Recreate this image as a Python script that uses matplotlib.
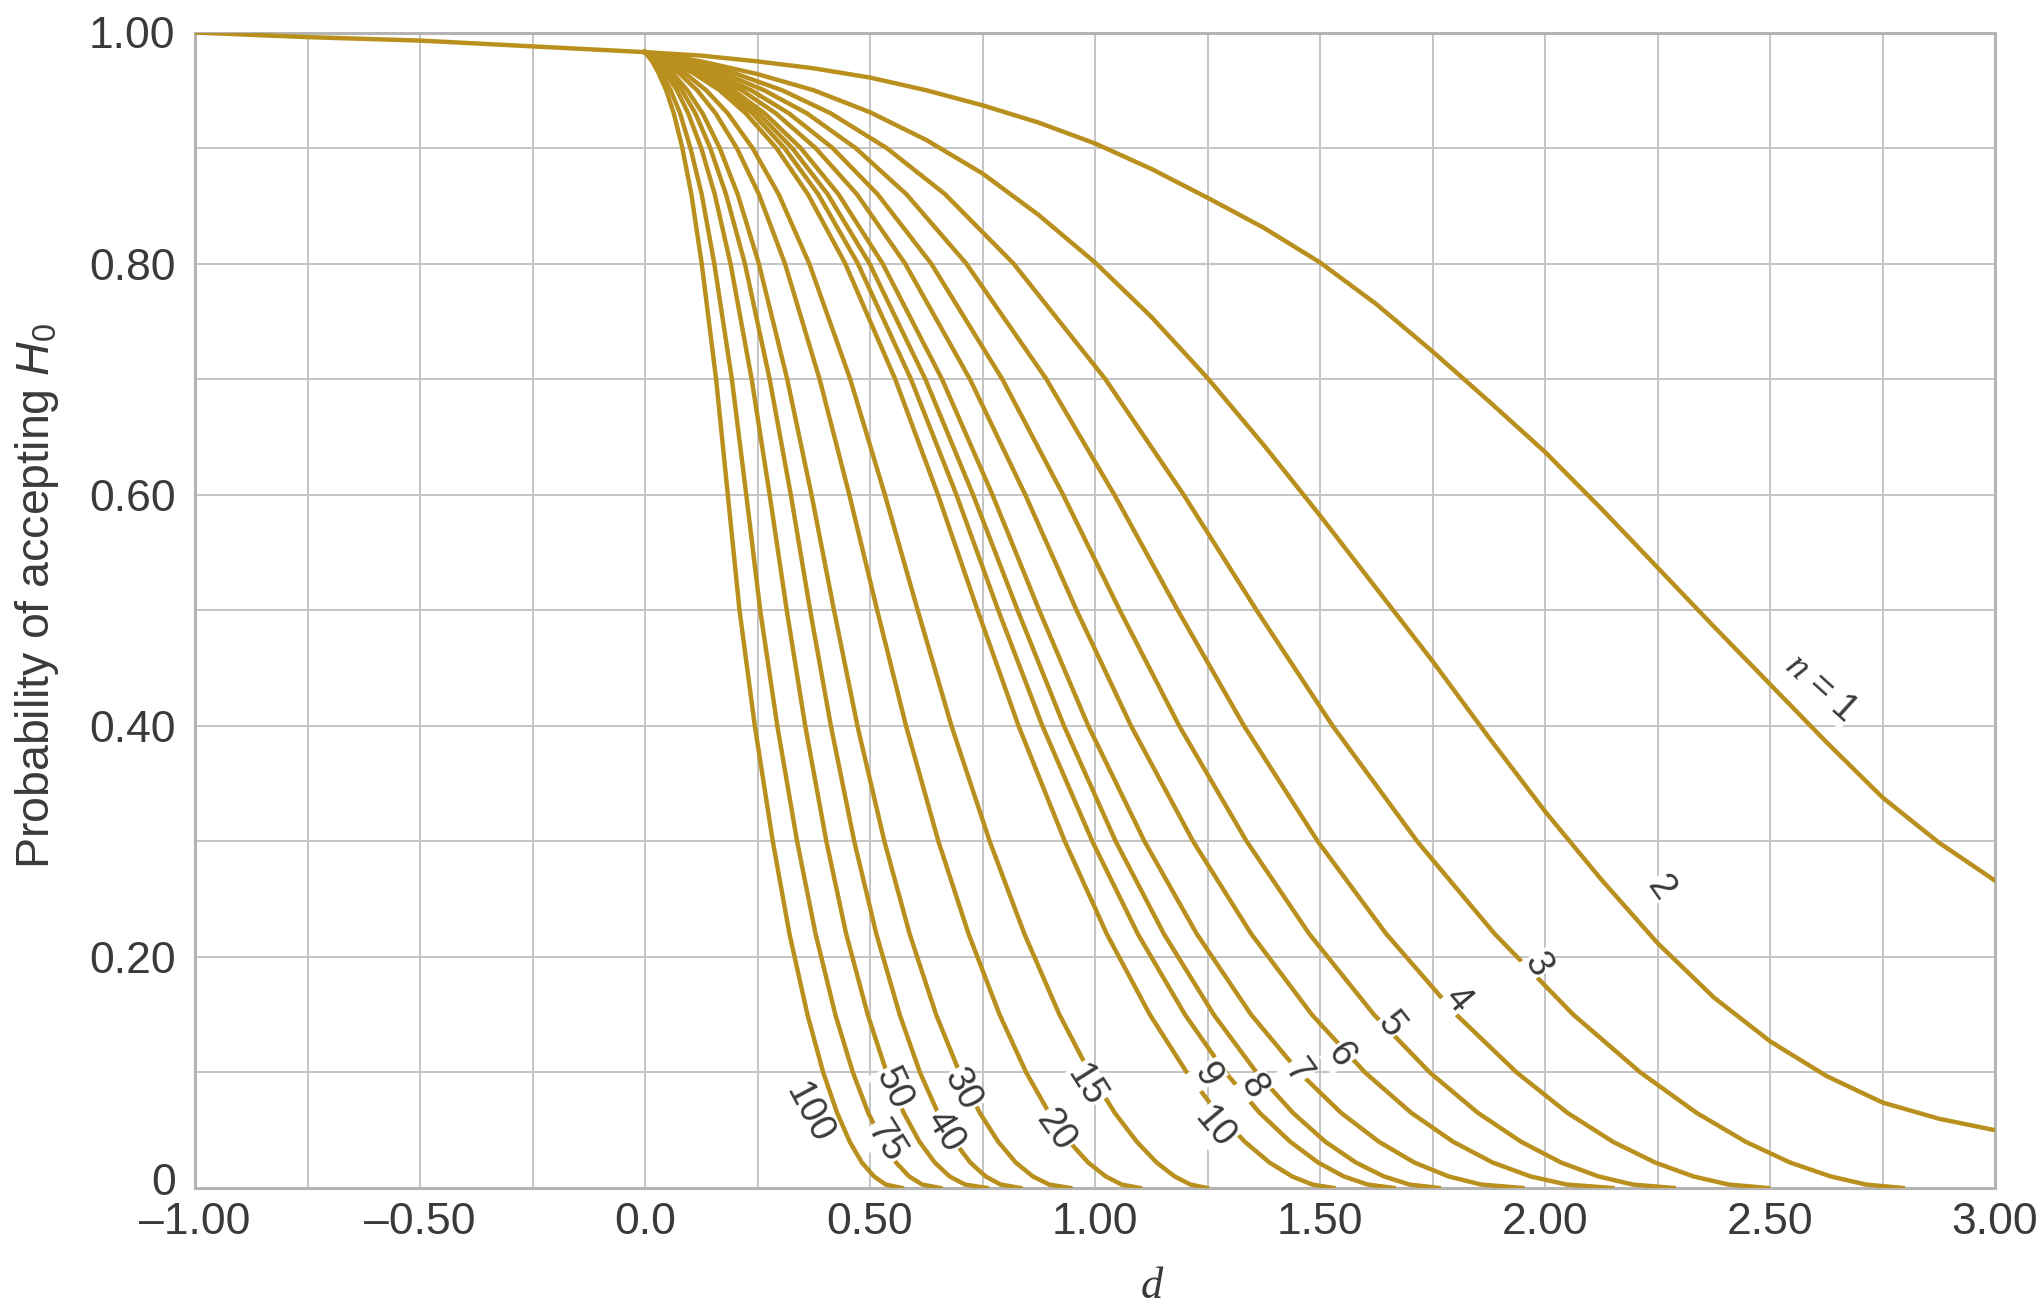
import matplotlib.pyplot as plt
import matplotlib.transforms as mtrans
from matplotlib.ticker import MultipleLocator

plt.rcParams['font.family'] = ['Liberation Sans', 'DejaVu Sans']
plt.rcParams['mathtext.fontset'] = 'custom'
plt.rcParams['mathtext.rm'] = 'Liberation Sans'
plt.rcParams['mathtext.it'] = 'Liberation Sans:italic'
plt.rcParams['mathtext.cal'] = 'Liberation Serif:italic'

# shared branch for d < 0
d_left = [-1.0, -0.75, -0.5, -0.25, 0.0]
p_left = [1.0, 0.996, 0.993, 0.988, 0.983]

p_levels = [0.983, 0.975, 0.965, 0.95, 0.93, 0.9, 0.86, 0.8, 0.7, 0.6, 0.5,
            0.4, 0.3, 0.22, 0.15, 0.1, 0.065, 0.04, 0.022, 0.01, 0.003, 0.0]

d_n100 = [0, 0.016, 0.030, 0.047, 0.064, 0.083, 0.103, 0.126, 0.158, 0.184, 0.21,
          0.244, 0.284, 0.321, 0.361, 0.396, 0.427, 0.455, 0.482, 0.509, 0.535, 0.571]
d_n75 = [0, 0.019, 0.037, 0.057, 0.078, 0.101, 0.126, 0.154, 0.193, 0.225, 0.256,
         0.294, 0.338, 0.379, 0.423, 0.462, 0.496, 0.528, 0.558, 0.587, 0.616, 0.656]
d_n50 = [0, 0.024, 0.046, 0.071, 0.096, 0.125, 0.155, 0.19, 0.237, 0.277, 0.315,
         0.356, 0.403, 0.447, 0.495, 0.537, 0.575, 0.61, 0.644, 0.677, 0.711, 0.76]
d_n40 = [0, 0.028, 0.053, 0.082, 0.112, 0.145, 0.18, 0.222, 0.277, 0.324, 0.367,
         0.413, 0.465, 0.514, 0.566, 0.611, 0.651, 0.688, 0.723, 0.757, 0.79, 0.834]
d_n30 = [0, 0.032, 0.061, 0.094, 0.128, 0.166, 0.206, 0.253, 0.316, 0.37, 0.42,
         0.472, 0.532, 0.588, 0.647, 0.699, 0.744, 0.785, 0.824, 0.862, 0.898, 0.945]
d_n20 = [0, 0.039, 0.075, 0.116, 0.157, 0.204, 0.253, 0.311, 0.388, 0.454, 0.516,
         0.58, 0.652, 0.719, 0.788, 0.847, 0.898, 0.943, 0.985, 1.024, 1.059, 1.10]
d_n15 = [0, 0.046, 0.088, 0.136, 0.184, 0.239, 0.297, 0.365, 0.456, 0.533, 0.606,
         0.681, 0.766, 0.843, 0.921, 0.988, 1.044, 1.093, 1.137, 1.177, 1.212, 1.249]
d_n10 = [0, 0.056, 0.107, 0.166, 0.224, 0.292, 0.362, 0.445, 0.556, 0.651, 0.739,
         0.83, 0.933, 1.026, 1.122, 1.204, 1.272, 1.333, 1.388, 1.438, 1.483, 1.53]
d_n9 = [0, 0.059, 0.114, 0.176, 0.239, 0.31, 0.385, 0.473, 0.591, 0.692, 0.785,
        0.883, 0.994, 1.095, 1.2, 1.29, 1.366, 1.434, 1.496, 1.553, 1.606, 1.664]
d_n8 = [0, 0.063, 0.12, 0.186, 0.252, 0.327, 0.406, 0.499, 0.623, 0.729, 0.828,
        0.931, 1.046, 1.153, 1.264, 1.359, 1.44, 1.512, 1.58, 1.642, 1.699, 1.764]
d_n7 = [0, 0.066, 0.127, 0.196, 0.266, 0.346, 0.43, 0.528, 0.66, 0.772, 0.876,
        0.985, 1.11, 1.226, 1.347, 1.454, 1.547, 1.631, 1.71, 1.786, 1.858, 1.95]
d_n6 = [0, 0.072, 0.139, 0.215, 0.291, 0.379, 0.471, 0.578, 0.722, 0.845, 0.959,
        1.08, 1.218, 1.347, 1.482, 1.60, 1.703, 1.796, 1.884, 1.968, 2.048, 2.15]
d_n5 = [0, 0.08, 0.153, 0.236, 0.32, 0.417, 0.517, 0.636, 0.794, 0.929, 1.055,
        1.187, 1.337, 1.476, 1.62, 1.744, 1.851, 1.947, 2.036, 2.119, 2.195, 2.286]
d_n4 = [0, 0.089, 0.172, 0.265, 0.36, 0.468, 0.581, 0.714, 0.892, 1.043, 1.184,
        1.331, 1.495, 1.647, 1.803, 1.937, 2.05, 2.151, 2.245, 2.33, 2.408, 2.495]
d_n3 = [0, 0.103, 0.197, 0.305, 0.413, 0.537, 0.667, 0.819, 1.023, 1.197, 1.359,
        1.528, 1.716, 1.888, 2.063, 2.212, 2.337, 2.446, 2.545, 2.635, 2.713, 2.795]

# n = 1 and n = 2 read on a grid of d
d_grid = [0, 0.125, 0.25, 0.375, 0.5, 0.625, 0.75, 0.875, 1.0, 1.125, 1.25, 1.375,
          1.5, 1.625, 1.75, 1.875, 2.0, 2.125, 2.25, 2.375, 2.5, 2.625, 2.75, 2.875, 3.0]
p_n2 = [0.983, 0.975, 0.964, 0.950, 0.931, 0.907, 0.878, 0.842, 0.801, 0.754, 0.701,
        0.643, 0.582, 0.519, 0.456, 0.390, 0.326, 0.267, 0.212, 0.165, 0.127, 0.097,
        0.074, 0.060, 0.050]
p_n1 = [0.983, 0.980, 0.975, 0.969, 0.961, 0.950, 0.937, 0.922, 0.904, 0.882, 0.857,
        0.831, 0.801, 0.765, 0.724, 0.681, 0.637, 0.588, 0.537, 0.486, 0.436, 0.386,
        0.338, 0.299, 0.266]

# curve labels
lab_text = ['100', '75', '50', '40', '30', '20', '15', '10', '9', '8', '7', '6', '5',
            '4', '3', '2', r'$\mathcal{n}$ = 1']
lab_d = [0.364, 0.534, 0.552, 0.667, 0.705, 0.912, 0.979, 1.264, 1.249, 1.353, 1.449,
         1.546, 1.657, 1.805, 1.983, 2.257, 2.613]
lab_p = [0.065, 0.040, 0.086, 0.049, 0.085, 0.050, 0.089, 0.052, 0.098, 0.088, 0.101,
         0.115, 0.141, 0.163, 0.193, 0.260, 0.433]
lab_rot = [-62, -58, -65, -58, -62, -55, -58, -50, -60, -58, -55, -55, -52, -50, -60, -55, -42]

gold = '#B98F1E'
ink = '#3a3a3a'

fig = plt.figure(figsize=(20.37, 13.07), dpi=100)
ax = fig.add_axes([195 / 2037, 1 - 1188 / 1307, 1800 / 2037, 1155.5 / 1307])

curves = [d_n100, d_n75, d_n50, d_n40, d_n30, d_n20, d_n15, d_n10, d_n9, d_n8,
          d_n7, d_n6, d_n5, d_n4, d_n3]
for dv in curves:
    ax.plot(dv, p_levels, color=gold, lw=3.2, zorder=3)
ax.plot(d_grid, p_n2, color=gold, lw=3.2, zorder=3)
ax.plot(d_grid, p_n1, color=gold, lw=3.2, zorder=3)
ax.plot(d_left, p_left, color=gold, lw=3.2, zorder=3)

for t, x, y, r in zip(lab_text, lab_d, lab_p, lab_rot):
    ax.text(x, y, t, rotation=r, ha='center', va='center', fontsize=27, color=ink,
            rotation_mode='anchor', zorder=5,
            bbox=dict(facecolor='white', edgecolor='none', pad=0.5))

ax.set_xlim(-1, 3)
ax.set_ylim(0, 1.0)
ax.xaxis.set_minor_locator(MultipleLocator(0.25))
ax.yaxis.set_minor_locator(MultipleLocator(0.1))
ax.set_xticks([-1, -0.5, 0, 0.5, 1, 1.5, 2, 2.5, 3])
ax.set_xticklabels(['\u20131.00', '\u20130.50', '0.0', '0.50', '1.00', '1.50', '2.00',
                    '2.50', '3.00'])
ax.set_yticks([0, 0.2, 0.4, 0.6, 0.8, 1.0])
ax.set_yticklabels(['0', '0.20', '0.40', '0.60', '0.80', '1.00'])
ax.tick_params(which='both', length=0, labelsize=32, labelcolor=ink)
ax.tick_params(axis='x', pad=10)
ax.tick_params(axis='y', pad=14)
ax.grid(which='both', color='#c4c4c4', lw=1.4, zorder=0)
for s in ax.spines.values():
    s.set_color('#b4b4b4')
    s.set_linewidth(2.2)

# the "0" of the y axis sits a little above its gridline
zero_lbl = ax.yaxis.get_major_ticks()[0].label1
zero_lbl.set_transform(zero_lbl.get_transform() +
                       mtrans.ScaledTranslation(0, 0.09, fig.dpi_scale_trans))

fig.text(37 / 2037, 1 - 596 / 1307, r'Probability of accepting $H_0$', rotation=90,
         ha='center', va='center', fontsize=33.5, color=ink)
fig.text(1152 / 2037, 1 - 1287 / 1307, 'd', ha='center', va='center', fontsize=32,
         color=ink, family='Liberation Serif', style='italic')

fig.savefig('out.png', dpi=100)
